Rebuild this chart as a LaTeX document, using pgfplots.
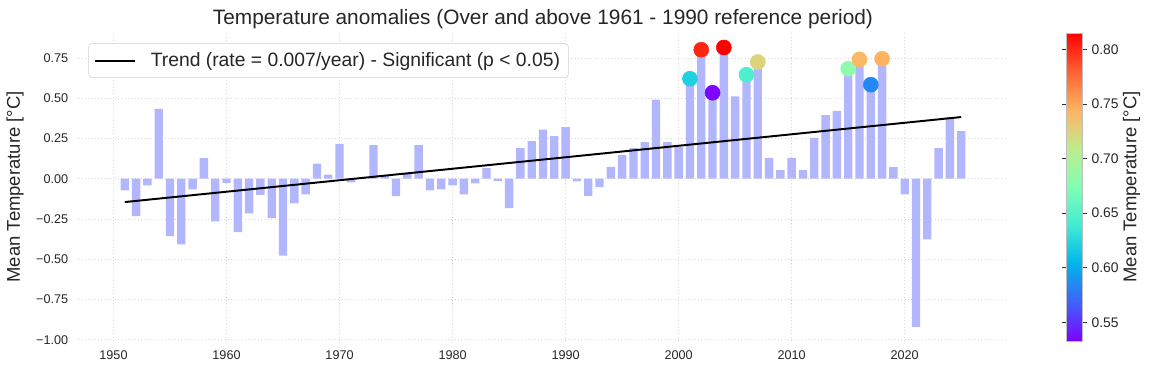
\documentclass[border=0pt]{standalone}
\usepackage{fontspec}
\setmainfont{Liberation Sans}
\usepackage{pgfplots}
\pgfplotsset{compat=1.18}
\definecolor{barblue}{RGB}{178,182,252}
\definecolor{txt}{RGB}{38,38,38}
\definecolor{gridc}{RGB}{215,215,215}
\pgfplotstableread{
year val
1951 -0.073
1952 -0.232
1953 -0.041
1954 0.433
1955 -0.357
1956 -0.408
1957 -0.066
1958 0.128
1959 -0.265
1960 -0.027
1961 -0.332
1962 -0.216
1963 -0.100
1964 -0.245
1965 -0.477
1966 -0.153
1967 -0.097
1968 0.093
1969 0.025
1970 0.216
1971 -0.023
1972 0.004
1973 0.209
1974 0.018
1975 -0.108
1976 0.030
1977 0.209
1978 -0.073
1979 -0.066
1980 -0.041
1981 -0.097
1982 -0.029
1983 0.066
1984 -0.015
1985 -0.182
1986 0.190
1987 0.234
1988 0.305
1989 0.265
1990 0.321
1991 -0.017
1992 -0.107
1993 -0.053
1994 0.073
1995 0.147
1996 0.190
1997 0.228
1998 0.491
1999 0.228
2000 0.197
2001 0.621
2002 0.801
2003 0.534
2004 0.815
2005 0.511
2006 0.646
2007 0.725
2008 0.130
2009 0.054
2010 0.130
2011 0.054
2012 0.253
2013 0.395
2014 0.422
2015 0.683
2016 0.741
2017 0.584
2018 0.745
2019 0.072
2020 -0.097
2021 -0.921
2022 -0.377
2023 0.190
2024 0.383
2025 0.296
}\anomalies
\pgfplotstableread{
year val
2001 0.621
2002 0.801
2003 0.534
2004 0.815
2006 0.646
2007 0.725
2015 0.683
2016 0.741
2017 0.584
2018 0.745
}\hot
\begin{document}
\begin{tikzpicture}
\begin{axis}[
  name=ax,
  scale only axis,
  width=669.6pt, height=221.76pt,
  xmin=1946.86, xmax=2029.14,
  ymin=-1.008, ymax=0.905,
  axis line style={draw=none},
  major tick length=0pt,
  grid=major,
  grid style={gridc, line width=0.6pt, dash pattern=on 0.8pt off 1.6pt},
  xtick={1950,1960,...,2020},
  xticklabels={1950,1960,1970,1980,1990,2000,2010,2020},
  ytick={-1,-0.75,-0.5,-0.25,0,0.25,0.5,0.75},
  yticklabels={−1.00,−0.75,−0.50,−0.25,0.00,0.25,0.50,0.75},
  ticklabel style={font=\fontsize{9.1}{11}\selectfont, text=txt},
  yticklabel style={xshift=-3.5pt},
  xticklabel style={yshift=-3.5pt},
  every axis title shift=0pt,
  title={Temperature anomalies (Over and above 1961 - 1990 reference period)},
  title style={font=\fontsize{15}{18}\selectfont, text=txt, at={(axis description cs:0.5,1)}, anchor=base, yshift=5.8pt, inner sep=0pt},
  ylabel={Mean Temperature [°C]},
  ylabel style={font=\fontsize{13.3}{16}\selectfont, text=txt, at={(axis description cs:0,0.5)}, anchor=south, inner sep=0pt, yshift=38.9pt},
  colormap={mplrainbow}{rgb=(0.5,0,1) rgb=(0.25,0.383,0.981) rgb=(0,0.707,0.924) rgb=(0.25,0.924,0.831) rgb=(0.5,1,0.707) rgb=(0.75,0.924,0.556) rgb=(1,0.707,0.383) rgb=(1,0.383,0.195) rgb=(1,0,0)},
  point meta min=0.533, point meta max=0.815,
  colorbar,
  colorbar style={
    scale only axis,
    width=11pt, height=221.76pt,
    at={(parent axis.north east)}, anchor=north west, xshift=33.8pt,
    axis line style={draw=black!25, line width=0.7pt},
    ytick={0.55,0.6,0.65,0.7,0.75,0.8},
    yticklabels={0.55,0.60,0.65,0.70,0.75,0.80},
    yticklabel pos=right,
    ytick align=outside,
    major tick length=3.3pt,
    tick style={black!80, line width=0.7pt},
    yticklabel style={font=\fontsize{10}{12}\selectfont, text=txt},
    ylabel={Mean Temperature [°C]},
    ylabel style={font=\fontsize{13.3}{16}\selectfont, text=txt, at={(axis description cs:1,0.5)}, anchor=north, inner sep=0pt, yshift=-29.2pt},
    grid=none,
  },
  legend style={at={(axis description cs:0.01108,0.9666)}, anchor=north west, draw=black!18, rounded corners=2.5pt, fill=white, font=\fontsize{13.9}{16}\selectfont, text=txt, inner xsep=4pt, inner ysep=4.5pt},
  legend cell align=left,
  legend image code/.code={\draw[#1] (0pt,0pt) -- (28.8pt,0pt); \path (37.4pt,0pt);},
]
\addplot[ybar, bar width=0.74, bar shift=0pt, fill=barblue, draw=none, forget plot] table[x=year, y=val] {\anomalies};
\addplot[black, line width=1.4pt] coordinates {(1951,-0.145) (2025,0.383)};
\addlegendentry{Trend (rate = 0.007/year) - Significant (p < 0.05)}
\addplot[scatter, only marks, mark=*, mark size=5.4pt, point meta=y, scatter/use mapped color={draw=mapped color, fill=mapped color}, forget plot] table[x=year, y=val] {\hot};
\coordinate (sw) at (rel axis cs:0,0);
\end{axis}
\pgfresetboundingbox
\path[use as bounding box] ([shift={(-56.16pt,-23.04pt)}]sw) rectangle ([shift={(773.28pt,245.52pt)}]sw);
\end{tikzpicture}
\end{document}
